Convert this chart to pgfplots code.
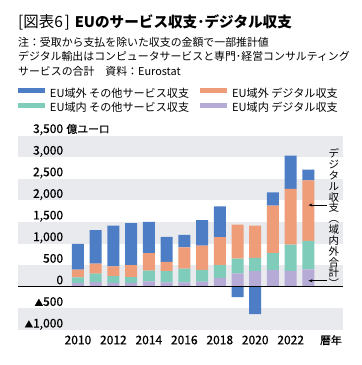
\documentclass[border=0pt]{standalone}
\usepackage{pgfplots}
\pgfplotsset{compat=1.18}
\usepackage{pgfplotstable}
\usetikzlibrary{arrows.meta}
\usepackage{fontspec}
\setmainfont{Noto Sans CJK JP}
\newfontface\numfont{Noto Sans CJK JP}[FakeBold=0.7]
\definecolor{cblue}{RGB}{76,125,197}
\definecolor{corange}{RGB}{239,157,121}
\definecolor{cteal}{RGB}{127,204,187}
\definecolor{cpurple}{RGB}{181,171,214}
\definecolor{stripe}{RGB}{232,234,238}
\newcommand{\tri}{{\fontsize{8.5}{10}\selectfont ▲}}

\pgfplotstableread{
year purple teal orange blue
2010 85 135 175 597
2011 108 194 233 776
2012 90 155 228 943
2013 90 135 276 970
2014 128 248 404 722
2015 100 260 217 578
2016 100 320 491 290
2017 120 272 560 590
2018 208 292 647 716
2019 308 346 786 0
2020 362 308 747 0
2021 385 393 1101 308
2022 370 608 1286 770
2023 400 663 1401 246
}\datatable

\pgfplotstableread{
year blue
2019 -240
2020 -630
}\negtable

\pgfplotsset{base/.style={
  at={(18pt,-330pt)}, anchor=south west,
  width=325pt, height=194.5pt, scale only axis,
  xmin=2006.62, xmax=2024.95, ymin=-1000, ymax=3500,
  enlargelimits=false, clip=false}}

\begin{document}
\begin{tikzpicture}[x=1pt,y=1pt]
\fill[white] (0,0) rectangle (362,-365);
\node[anchor=base west, inner sep=0pt, font=\fontsize{15.5}{18}\selectfont] at (18,-27.5) {[図表6\hspace{1.5pt}]\hspace{5pt}{\fontsize{14.6}{18}\selectfont\bfseries EUのサービス収支･デジタル収支}};
\node[anchor=base west, inner sep=0pt, font=\fontsize{10.9}{12}\selectfont] at (18,-46.3) {注：受取から支払を除いた収支の金額で一部推計値};
\node[anchor=base west, inner sep=0pt, font=\fontsize{10.9}{12}\selectfont] at (18,-60.7) {デジタル輸出はコンピュータサービスと専門･経営コンサルティング};
\node[anchor=base west, inner sep=0pt, font=\fontsize{10.9}{12}\selectfont] at (18,-75) {サービスの合計　資料：Eurostat};

% background stripes
\begin{axis}[base, hide axis]
\addplot[draw=none, forget plot] coordinates {(2010,0)};
\fill[stripe] (axis cs:2006.62,-1000) rectangle (axis cs:2024.95,-500);
\fill[stripe] (axis cs:2006.62,0) rectangle (axis cs:2024.95,500);
\fill[stripe] (axis cs:2006.62,1000) rectangle (axis cs:2024.95,1500);
\fill[stripe] (axis cs:2006.62,2000) rectangle (axis cs:2024.95,2500);
\fill[stripe] (axis cs:2006.62,3000) rectangle (axis cs:2024.95,3500);
\end{axis}

\begin{axis}[base,
  ybar stacked, bar width=12pt,
  axis line style={draw=none}, tick style={draw=none},
  ytick={-1000,-500,...,3500},
  yticklabels={{\tri 1,000},{\tri 500},0,500,{1,000},{1,500},{2,000},{2,500},{3,000},{3,500\rlap{\fontsize{10.8}{12}\selectfont\hspace{3.4pt}億ユーロ}}},
  yticklabel style={anchor=base east, inner sep=0pt, xshift=45.3pt, yshift=2.5pt, font=\fontsize{12}{14}\numfont},
  xtick={2010,2012,2014,2016,2018,2020,2022,2024.27},
  xticklabels={2010,2012,2014,2016,2018,2020,2022,{\fontsize{10.8}{12}\selectfont 暦年}},
  xticklabel style={anchor=base, inner sep=0pt, yshift=-14.3pt, font=\fontsize{12}{14}\numfont},
  legend columns=2, reverse legend,
  legend cell align=left,
  legend image code/.code={\fill[#1] (0pt,1.2pt) rectangle (27pt,6.2pt);},
  legend style={at={(axis description cs:0,1.2427)}, anchor=north west, draw=none, fill=none,
    inner sep=0pt, outer sep=0pt, font=\fontsize{11.1}{12}\selectfont,
    column sep=5pt, row sep=3.2pt,
    nodes={inner sep=0pt, text height=8pt, text depth=2.5pt},
    /tikz/column 2/.style={column sep=11pt}},
]
\addplot[fill=cpurple, draw=none] table[x=year,y=purple] {\datatable};
\addlegendentry{EU域内 デジタル収支}
\addplot[fill=cteal, draw=none] table[x=year,y=teal] {\datatable};
\addlegendentry{EU域内 その他サービス収支}
\addplot[fill=corange, draw=none] table[x=year,y=orange] {\datatable};
\addlegendentry{EU域外 デジタル収支}
\addplot[fill=cblue, draw=none] table[x=year,y=blue] {\datatable};
\addlegendentry{EU域外 その他サービス収支}
\end{axis}

\begin{axis}[base, hide axis,
  ybar, bar width=12pt, bar shift=0pt,
]
\addplot[fill=cblue, draw=none] table[x=year,y=blue] {\negtable};
\draw[black, line width=1.2pt] (axis cs:2006.62,0) -- (axis cs:2024.95,0);
\draw[-{Stealth[length=4pt,width=3pt]}, line width=0.8pt] (axis cs:2024.03,1891) -- (axis cs:2023.0,1891);
\draw[-{Stealth[length=4pt,width=3pt]}, line width=0.8pt] (axis cs:2024.03,140) -- (axis cs:2023.0,140);
\node[inner sep=0pt, align=center, font=\fontsize{10.5}{10.85}\selectfont] at (axis cs:2024.44,1586) {デ\\ジ\\タ\\ル\\収\\支\\︵\\域\\内\\外\\合\\計\\︶};
\end{axis}
\pgfresetboundingbox
\path[use as bounding box] (0,0) rectangle (362,-365);
\end{tikzpicture}
\end{document}
